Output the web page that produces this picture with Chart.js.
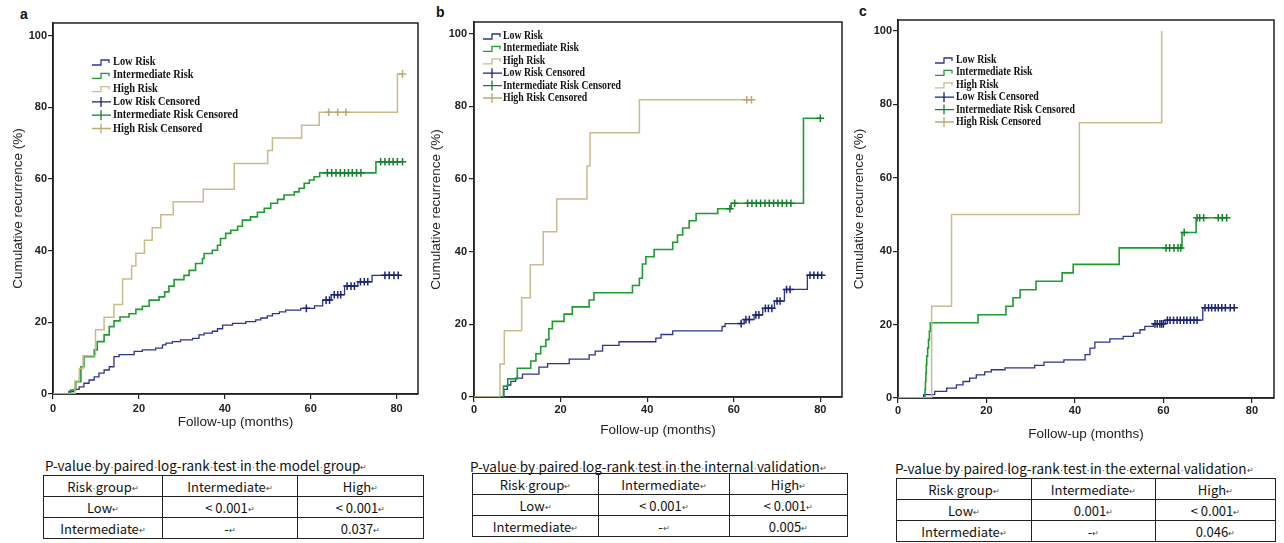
<!DOCTYPE html>
<html>
<head>
<meta charset="utf-8">
<script src="https://cdn.jsdelivr.net/npm/chart.js@4.4.1/dist/chart.umd.min.js"></script>
<style>
  body { margin: 0; background: #fff; width: 1284px; height: 543px; overflow: hidden; position: relative; }
  canvas { position: absolute; top: 0; }
  .tag { position: absolute; font: bold 14px "Liberation Sans", Arial, sans-serif; color: #111; }
  .ttl { position: absolute; font: 13.5px "Noto Sans CJK SC", sans-serif; color: #111; white-space: nowrap; }
  table { position: absolute; border-collapse: collapse; font: 13px "Noto Sans CJK SC", sans-serif; color: #111; table-layout: fixed; }
  td { border: 1.5px solid #222; text-align: center; height: 20px; padding: 0; white-space: nowrap; }
  i { font-style: normal; font-size: 8px; color: #444; vertical-align: 1px; }
  .d { font-family: "Liberation Sans", Arial, sans-serif; font-size: 10px; color: #555; }
</style>
</head>
<body>
<div class="tag" style="left:20px;top:6px">a</div>
<div class="tag" style="left:436px;top:4px">b</div>
<div class="tag" style="left:859px;top:3px">c</div>
<canvas id="chA" width="425" height="445" style="left:0"></canvas>
<canvas id="chB" width="425" height="445" style="left:425px"></canvas>
<canvas id="chC" width="434" height="445" style="left:850px"></canvas>
<div id="tables"></div>
<script>
// ticks
const xTicks = [0, 20, 40, 60, 80];
const yTicks = [0, 20, 40, 60, 80, 100];
const riskLabels = ["Low Risk", "Intermediate Risk", "High Risk"];

// a: model group  (T = event months, Y = cumulative %, C = censored months)
const aLowT = [3.7, 4.9, 6.1, 7.2, 8.4, 9.6, 10.7, 11.9, 13.1, 14.2, 15.4, 18.9, 20.8, 23.9, 25.5, 26.3, 27.8, 29.7, 32.5, 34, 35.2, 37.1, 38.3, 39.5, 41.8, 44.9, 47.2, 48.4, 49.9, 51.1, 52.7, 54.2, 57.7, 60.9, 62.8, 64.8, 67.9, 71, 74.3];
const aLowY = [0.7, 1.3, 2, 3, 3.9, 4.8, 5.8, 6.7, 7.6, 10.4, 11, 11.9, 12.3, 12.8, 13.7, 14.2, 14.6, 15.1, 15.5, 16.5, 17, 17.5, 18.2, 19.2, 19.7, 20.2, 20.7, 21.2, 21.8, 22.4, 22.9, 23.4, 23.9, 24.6, 26.2, 27.7, 30.1, 31.3, 33.1];
const aLowC = [59.0, 63.6, 64.4, 65.5, 66.3, 67.0, 68.5, 69.4, 70.2, 71.6, 72.5, 73.3, 77.3, 78.3, 79.4, 80.4];
const aMidT = [4.1, 5.3, 6.5, 7.2, 9.6, 10.3, 11.9, 13.1, 14.2, 15.6, 17.7, 19.3, 20.8, 22.4, 24.7, 26, 27, 28.2, 30.5, 31.7, 33.2, 34.8, 35.2, 37.1, 38.3, 39, 40.2, 41.4, 43, 44.1, 46, 47.6, 49.2, 50.7, 52.3, 53.8, 56.2, 57.3, 58.5, 59.7, 60.8, 62.1, 75.2];
const aMidY = [1.1, 3.4, 7.6, 10.4, 12.3, 14.6, 16.5, 18.8, 20.4, 21.5, 22.4, 23.6, 24.5, 26.2, 27.1, 28.5, 30.1, 31.9, 33.1, 34.5, 36.4, 37.8, 39.2, 40.1, 41.5, 43.4, 44.8, 45.7, 46.8, 48.5, 49.4, 50.7, 51.8, 53.2, 54.3, 55.5, 56.4, 57.4, 58.8, 59.7, 60.6, 61.7, 64.8];
const aMidC = [63.9, 64.9, 65.9, 66.9, 67.9, 68.8, 69.7, 70.7, 71.7, 76.3, 77.3, 78.3, 79.2, 80.2, 81.4];
const aHighT = [5.1, 6.1, 7, 9.9, 11.9, 14.2, 16.2, 18.3, 19.3, 21.3, 23.1, 25.1, 28, 35, 42.2, 50, 51.1, 57.9, 62, 80.2];
const aHighY = [3.6, 7.1, 10.7, 17.9, 21.4, 25, 32.1, 35.7, 39.3, 42.9, 46.4, 50, 53.6, 57.1, 64.3, 67.9, 71.4, 75, 78.6, 89.3];
const aHighC = [64.2, 66.3, 68.2, 81.4];

// b: internal validation
const bLowT = [6.9, 7.7, 8.5, 9.6, 11.2, 15, 17, 22, 26.6, 28, 29.7, 33.5, 42, 43.2, 45.9, 57.3, 58, 62.4, 64.7, 66.7, 69.4, 71.7, 77];
const bLowY = [2.1, 3.3, 4.3, 5.2, 6.3, 8.2, 9.2, 10.4, 11.6, 12.6, 14.2, 15.2, 16.2, 17.2, 18.2, 19.4, 20.2, 21.3, 22.6, 24.4, 26.4, 29.6, 33.5];
const bLowC = [61.7, 62.8, 63.6, 65.1, 65.8, 67.3, 68, 68.8, 70, 70.7, 72.2, 73, 77.6, 78.5, 79.4, 80.3];
const bMidT = [6.8, 7.8, 10, 13.1, 14.3, 15.4, 16.6, 17.3, 18.1, 20.8, 22.7, 26.6, 27.7, 36.6, 38.2, 38.9, 39.7, 41.6, 45.9, 47, 48.2, 49.7, 51.3, 56.3, 59.4, 76.1];
const bMidY = [3, 5, 7.9, 9.9, 11.9, 13.9, 15.8, 18.8, 20.8, 22.8, 24.8, 26.7, 28.7, 30.7, 32.7, 36.6, 38.6, 40.6, 42.6, 44.6, 46.5, 48.5, 50.5, 51.8, 53.3, 76.7];
const bMidC = [59.1, 60.2, 63.2, 64.2, 65.2, 66.2, 67.2, 68.2, 69.2, 70.2, 71.2, 72.2, 73.2, 80];
const bHighT = [6, 7, 11, 13, 16, 19.1, 26.1, 26.8, 38.2];
const bHighY = [9.1, 18.2, 27.3, 36.4, 45.5, 54.5, 63.6, 72.7, 81.8];
const bHighC = [63, 64.1];

// c: external validation
const cLowT = [5.8, 8.3, 11, 13.2, 14.7, 16.2, 17.7, 19.6, 21.1, 24.2, 30.9, 33, 37.5, 42.3, 43.4, 44.5, 47.9, 50.9, 53.2, 54.7, 55.8, 57.7, 60.4, 68.9];
const cLowY = [0.9, 1.8, 2.7, 3.6, 4.5, 5.4, 6.3, 7.1, 7.7, 8.2, 8.9, 9.8, 10.4, 11.8, 13.6, 15.2, 16.1, 16.8, 17.7, 18.6, 19.5, 20.2, 21.2, 24.6];
const cLowC = [58.1, 58.6, 59.2, 59.6, 60.0, 60.9, 61.5, 62.3, 63.1, 63.8, 64.6, 65.3, 66.1, 66.9, 67.6, 69.4, 70.2, 70.9, 71.7, 72.4, 73.2, 74, 75.1, 76];
const cMidT = [6.1, 6.2, 6.3, 6.4, 6.5, 6.7, 6.9, 7.1, 7.3, 18.1, 24.4, 26, 27.6, 31.2, 37.1, 39.6, 50, 64.2, 67.4];
const cMidY = [2.3, 4.5, 6.8, 9.1, 11.4, 13.6, 15.9, 18.2, 20.5, 22.7, 25, 27.3, 29.5, 31.8, 34.1, 36.4, 40.9, 45.1, 49.1];
const cMidC = [60.6, 61.4, 62.4, 63.3, 63.9, 64.7, 67.6, 68.2, 69.1, 72.4, 73.3, 74.3];
const cHighT = [7.6, 12.1, 41, 59.6];
const cHighY = [25, 50, 75, 100];
const cHighC = [];

// tables
const tableTitles = [
  "P-value·by·paired·log-rank·test·in·the·model·group",
  "P-value·by·paired·log-rank·test·in·the·internal·validation",
  "P-value·by·paired·log-rank·test·in·the·external·validation",
];
const tableHead = ["Risk·group", "Intermediate", "High"];
const rowNames = ["Low", "Intermediate"];
const pLowA = ["< 0.001", "< 0.001"], pMidA = ["-", "0.037"];
const pLowB = ["< 0.001", "< 0.001"], pMidB = ["-", "0.005"];
const pLowC = ["0.001", "< 0.001"], pMidC = ["-", "0.046"];

const lineColors = ["#2d3592", "#1f9c30", "#c9bb8c"];
const crossColors = ["#1c2274", "#15802a", "#bba874"];
const lineWidths = [1.3, 1.6, 1.5];

function valueAt(T, Y, t) {
  let v = 0;
  T.forEach((tt, i) => { if (tt <= t) v = Y[i]; });
  return v;
}

function stepPoints(T, Y, C) {
  const pts = [{ x: 0, y: 0 }];
  T.forEach((t, i) => pts.push({ x: t, y: Y[i] }));
  const end = C.length ? Math.max(...C) : 0;
  if (end > T[T.length - 1]) pts.push({ x: end, y: Y[Y.length - 1] });
  return pts;
}

const frame = {
  id: "frame",
  beforeDatasetsDraw(chart) {
    const { ctx, chartArea: a } = chart;
    ctx.save();
    ctx.strokeStyle = "#222";
    ctx.lineWidth = 1.5;
    ctx.strokeRect(a.left, a.top, a.right - a.left, a.bottom - a.top);
    ctx.restore();
  },
};

// legend drawn inside the plot, with step / cross icons
const kmLegend = {
  id: "kmLegend",
  afterDraw(chart, args, o) {
    const ctx = chart.ctx;
    const sets = chart.data.datasets;
    ctx.save();
    ctx.font = `bold ${o.size}px "Liberation Serif", "Times New Roman", serif`;
    const sx = o.fit / ctx.measureText(sets[4].label).width;
    sets.forEach((ds, i) => {
      const y = o.y + i * o.dy;
      const x = o.x;
      ctx.strokeStyle = ds.borderColor;
      ctx.lineWidth = 1.3;
      ctx.beginPath();
      if (i < 3) {
        ctx.moveTo(x, y + 3);
        ctx.lineTo(x + 9, y + 3);
        ctx.lineTo(x + 9, y - 2);
        ctx.lineTo(x + 17, y - 2);
        ctx.lineTo(x + 17, y + 1);
      } else {
        ctx.moveTo(x, y);
        ctx.lineTo(x + 19, y);
        ctx.moveTo(x + 9, y - 5);
        ctx.lineTo(x + 9, y + 5);
      }
      ctx.stroke();
      ctx.save();
      ctx.translate(o.tx, y);
      ctx.scale(sx, 1);
      ctx.fillStyle = "#111";
      ctx.textBaseline = "middle";
      ctx.fillText(ds.label, 0, 0);
      ctx.restore();
    });
    ctx.restore();
  },
};

function makeChart(id, series, lay) {
  const datasets = [];
  series.forEach((s, i) => {
    datasets.push({
      type: "line",
      label: riskLabels[i],
      data: stepPoints(s[0], s[1], s[2]),
      stepped: true,
      borderColor: lineColors[i],
      borderWidth: lineWidths[i],
      pointRadius: 0,
      fill: false,
      order: 3 - i,
    });
  });
  series.forEach((s, i) => {
    datasets.push({
      type: "scatter",
      label: riskLabels[i] + " Censored",
      data: s[2].map((t) => ({ x: t, y: valueAt(s[0], s[1], t) })),
      pointStyle: "cross",
      pointRadius: 3.8,
      borderColor: crossColors[i],
      backgroundColor: crossColors[i],
      borderWidth: 1.5,
      showLine: false,
      order: 0,
    });
  });

  const tickFont = { family: "'Liberation Sans', Arial", size: 11, weight: "bold" };
  const titleFont = { family: "'Liberation Sans', Arial", size: 13.5 };

  return new Chart(document.getElementById(id), {
    data: { datasets },
    plugins: [frame, kmLegend],
    options: {
      responsive: false,
      animation: false,
      events: [],
      layout: { padding: { top: lay.top, right: lay.right, left: 0, bottom: 0 } },
      plugins: {
        legend: { display: false },
        tooltip: { enabled: false },
        kmLegend: lay.legend,
      },
      scales: {
        x: {
          type: "linear",
          min: 0,
          max: 85,
          afterBuildTicks: (s) => { s.ticks = xTicks.map((v) => ({ value: v })); },
          afterFit: (s) => { s.height = lay.xh; },
          ticks: { font: tickFont, color: "#222", padding: lay.xpad, maxRotation: 0 },
          grid: { drawOnChartArea: false, tickLength: 5, color: "#222", lineWidth: 1.2 },
          border: { color: "#222", width: 1.5 },
          title: { display: true, text: "Follow-up (months)", font: titleFont, color: "#222", padding: { top: 0, bottom: lay.xtb } },
        },
        y: {
          type: "linear",
          min: 0,
          max: lay.ymax,
          afterBuildTicks: (s) => { s.ticks = yTicks.map((v) => ({ value: v })); },
          afterFit: (s) => { s.width = lay.yw; },
          ticks: { font: tickFont, color: "#222", padding: lay.ypad },
          grid: { drawOnChartArea: false, tickLength: 5, color: "#222", lineWidth: 1.2 },
          border: { color: "#222", width: 1.5 },
          title: { display: true, text: "Cumulative recurrence (%)", font: titleFont, color: "#222", padding: { top: lay.ytt, bottom: 0 } },
        },
      },
    },
  });
}

makeChart("chA", [[aLowT, aLowY, aLowC], [aMidT, aMidY, aMidC], [aHighT, aHighY, aHighC]], {
  top: 23, right: 7, yw: 53, xh: 51, ymax: 103.5, xpad: 3, ypad: 1, xtb: 15, ytt: 10,
  legend: { x: 92, tx: 113, y: 62, dy: 13.3, size: 12, fit: 125 },
});
makeChart("chB", [[bLowT, bLowY, bLowC], [bMidT, bMidY, bMidC], [bHighT, bHighY, bHighC]], {
  top: 22, right: 8, yw: 49, xh: 48, ymax: 103.2, xpad: 1, ypad: 2, xtb: 7, ytt: 3.6,
  legend: { x: 58, tx: 78, y: 36, dy: 12.4, size: 11.5, fit: 118 },
});
makeChart("chC", [[cLowT, cLowY, cLowC], [cMidT, cMidY, cMidC], [cHighT, cHighY, cHighC]], {
  top: 20, right: 10, yw: 48, xh: 47, ymax: 103, xpad: 1, ypad: 1, xtb: 2.5, ytt: 1.6,
  legend: { x: 85, tx: 106, y: 60, dy: 12.4, size: 11.5, fit: 119 },
});

// p-value tables
const mark = "<i>↵</i>";
const dots = (s) => s.replace(/·/g, '<span class="d">·</span>');
function makeTable(title, lowVals, midVals, pos) {
  const host = document.getElementById("tables");
  const t = document.createElement("div");
  t.className = "ttl";
  t.style.left = pos.tx + "px";
  t.style.top = pos.ty + "px";
  t.innerHTML = dots(title) + mark;
  host.appendChild(t);
  const tb = document.createElement("table");
  tb.style.left = pos.left + "px";
  tb.style.top = pos.top + "px";
  tb.style.width = pos.cols.reduce((a, b) => a + b, 0) + "px";
  const cg = pos.cols.map((w) => `<col style="width:${w}px">`).join("");
  const row = (cells) => "<tr>" + cells.map((c) => `<td>${dots(c)}${mark}</td>`).join("") + "</tr>";
  tb.innerHTML = cg + row(tableHead) + row([rowNames[0], ...lowVals]) + row([rowNames[1], ...midVals]);
  host.appendChild(tb);
}
makeTable(tableTitles[0], pLowA, pMidA, { tx: 45, ty: 455, left: 43, top: 475, cols: [119, 135, 126] });
makeTable(tableTitles[1], pLowB, pMidB, { tx: 470, ty: 456, left: 472, top: 473, cols: [126, 131, 118] });
makeTable(tableTitles[2], pLowC, pMidC, { tx: 895, ty: 458, left: 896, top: 478, cols: [135, 124, 120] });
</script>
</body>
</html>
